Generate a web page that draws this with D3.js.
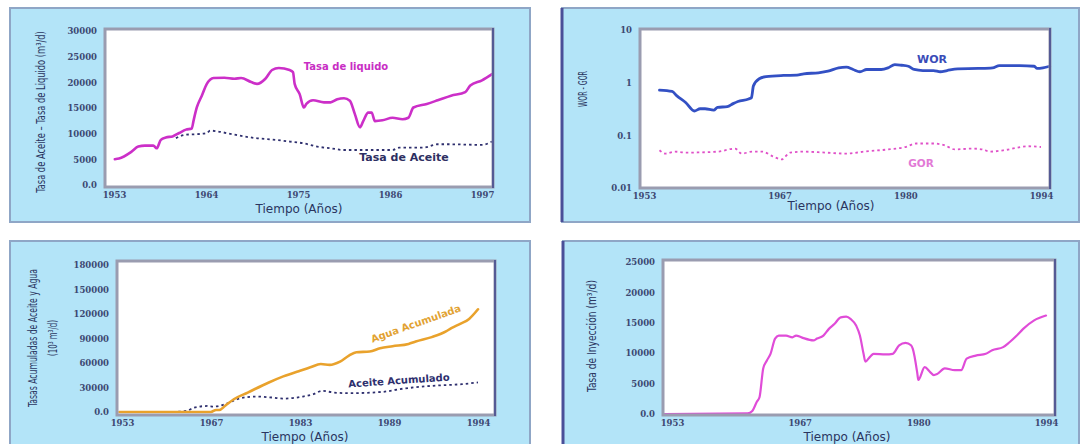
<!DOCTYPE html>
<html>
<head>
<meta charset="utf-8">
<script src="https://cdn.jsdelivr.net/npm/d3@7"></script>
<style>
  html, body { margin: 0; padding: 0; background: #ffffff; }
  svg { display: block; }
  .tick text { font-family: "DejaVu Serif", "Liberation Serif", serif; font-size: 8.5px; font-weight: bold; fill: #3d4872; }
  .xtitle { font-family: "DejaVu Sans", Verdana, sans-serif; font-size: 12px; fill: #2a3560; }
  .ytitle { font-family: "DejaVu Sans Condensed", "Liberation Sans", sans-serif; font-size: 13px; fill: #2a3560; }
  .series { font-family: "DejaVu Sans", Verdana, sans-serif; font-weight: bold; }
</style>
</head>
<body>
<svg id="chart" width="1084" height="444"></svg>
<script>
// ---- Panel 1: liquid and oil rates (m³/d) ----
const p1XTicks = [1953, 1964, 1975, 1986, 1997];
const p1YTicks = [0, 5000, 10000, 15000, 20000, 25000, 30000];
const tasaLiquido = [
  [1953.1, 5030], [1953.6, 5150], [1955.1, 6490], [1955.9, 7480], [1956.7, 7680],
  [1957.7, 7680], [1958.1, 7150], [1958.6, 8800], [1959.2, 9270], [1960.0, 9470],
  [1960.8, 10130], [1961.6, 10790], [1962.3, 11000], [1962.5, 12450], [1962.9, 15100],
  [1963.5, 17400], [1964.1, 19700], [1964.9, 20850], [1966.2, 20900], [1967.4, 20700],
  [1968.2, 20850], [1969.4, 20050], [1970.1, 19700], [1971.1, 20700], [1971.9, 22400],
  [1972.7, 22800], [1974.0, 22400], [1974.4, 22000], [1974.6, 19700], [1975.2, 17700],
  [1975.7, 15100], [1976.0, 15800], [1976.8, 16500], [1978.1, 16100], [1978.9, 16100],
  [1979.7, 16700], [1980.5, 16900], [1981.2, 16400], [1981.8, 13800], [1982.4, 11250],
  [1982.8, 12450], [1983.4, 14100], [1983.8, 14100], [1984.2, 12450], [1985.1, 12600],
  [1986.3, 13100], [1987.5, 12800], [1988.2, 13100], [1988.8, 15100], [1990.4, 15800],
  [1991.7, 16500], [1993.3, 17400], [1995.0, 18100], [1995.6, 19400], [1997.0, 20400],
  [1998.2, 21600]
];
const tasaAceite = [
  [1960.4, 9140], [1961.6, 9800], [1963.0, 9900], [1964.1, 10130], [1964.5, 10600],
  [1965.3, 10460], [1967.4, 9800], [1969.9, 9140], [1972.3, 8800], [1974.0, 8470],
  [1975.6, 8140], [1977.3, 7480], [1978.9, 7150], [1980.5, 6820], [1982.6, 6820],
  [1986.3, 6820], [1987.1, 7280], [1990.0, 7280], [1991.7, 7940], [1992.9, 7940],
  [1997.0, 7810], [1998.2, 8470]
];

// ---- Panel 2: WOR and GOR (log scale) ----
const p2XTicks = [1953, 1967, 1980, 1994];
const p2YTicks = [0.01, 0.1, 1, 10];
const p2YLabels = ["0.01", "0.1", "1", "10"];
const wor = [
  [1954.6, 0.72], [1955.9, 0.68], [1956.4, 0.56], [1957.3, 0.42], [1958.2, 0.29],
  [1958.8, 0.32], [1959.3, 0.32], [1960.2, 0.30], [1960.6, 0.34], [1961.6, 0.35],
  [1962.2, 0.40], [1962.7, 0.44], [1963.8, 0.49], [1964.1, 0.52], [1964.3, 0.87],
  [1964.9, 1.19], [1965.6, 1.30], [1967.4, 1.37], [1968.8, 1.39], [1969.5, 1.47],
  [1971.0, 1.54], [1972.0, 1.65], [1973.1, 1.91], [1973.9, 1.97], [1974.6, 1.78],
  [1975.3, 1.61], [1976.0, 1.78], [1977.5, 1.78], [1978.2, 1.91], [1978.9, 2.20],
  [1979.6, 2.14], [1980.3, 2.05], [1980.9, 1.78], [1981.8, 1.70], [1982.9, 1.70],
  [1983.6, 1.61], [1984.3, 1.70], [1985.4, 1.83], [1987.5, 1.86], [1989.0, 1.91],
  [1989.7, 2.11], [1991.8, 2.11], [1993.3, 2.05], [1993.6, 1.86], [1994.2, 1.91],
  [1994.9, 2.05]
];
const gor = [
  [1954.6, 0.052], [1955.2, 0.045], [1956.2, 0.049], [1957.3, 0.047], [1960.6, 0.049],
  [1962.4, 0.056], [1963.1, 0.045], [1964.2, 0.049], [1965.2, 0.049], [1966.3, 0.040],
  [1967.2, 0.035], [1968.1, 0.047], [1969.5, 0.049], [1971.7, 0.047], [1973.9, 0.045],
  [1975.7, 0.049], [1978.2, 0.054], [1980.0, 0.060], [1981.1, 0.070], [1982.9, 0.070],
  [1984.0, 0.065], [1985.1, 0.054], [1986.9, 0.056], [1988.0, 0.054], [1988.7, 0.049],
  [1990.1, 0.052], [1992.7, 0.062], [1994.0, 0.060]
];

// ---- Panel 3: cumulative water and oil (10³ m³) ----
const p3XTicks = [1953, 1967, 1983, 1989, 1994];
const p3YTicks = [0, 30000, 60000, 90000, 120000, 150000, 180000];
const aguaAcumulada = [
  [1952.6, 0], [1965.9, 0], [1967.0, 0], [1967.9, 2500], [1968.5, 2500],
  [1969.5, 7400], [1971.1, 15600], [1973.6, 23800], [1977.4, 36200], [1980.0, 43600],
  [1983.0, 50600], [1983.7, 54700], [1984.4, 58800], [1985.0, 57700], [1985.7, 61700],
  [1986.3, 69000], [1986.8, 73200], [1987.7, 74000], [1988.4, 78100], [1989.2, 80600],
  [1990.1, 83400], [1990.5, 86300], [1991.4, 91700], [1992.2, 98600], [1992.5, 102700],
  [1993.0, 108000], [1993.5, 114000], [1994.0, 125800]
];
const aceiteAcumulado = [
  [1961.0, 0], [1963.2, 1500], [1964.3, 5300], [1966.5, 7400], [1967.5, 6600],
  [1969.5, 9500], [1971.7, 15600], [1974.9, 18900], [1978.1, 17700], [1980.0, 16400],
  [1983.2, 18900], [1983.9, 21800], [1984.5, 25900], [1985.3, 23800], [1986.3, 23000],
  [1988.6, 24700], [1989.6, 28000], [1991.4, 32000], [1993.1, 34100], [1994.0, 36200]
];

// ---- Panel 4: injection rate (m³/d) ----
const p4XTicks = [1953, 1967, 1980, 1994];
const p4YTicks = [0, 5000, 10000, 15000, 20000, 25000];
const tasaInyeccion = [
  [1952.2, 0], [1961.3, 100], [1961.8, 500], [1962.3, 2000], [1962.6, 2800],
  [1963.0, 7500], [1963.4, 8800], [1963.8, 9900], [1964.3, 12400], [1964.7, 12900],
  [1965.5, 12900], [1966.2, 12600], [1966.6, 12900], [1967.2, 12600], [1968.5, 12100],
  [1968.9, 12400], [1969.6, 12900], [1970.2, 14000], [1970.8, 14800], [1971.5, 15900],
  [1972.1, 16000], [1972.6, 15600], [1973.2, 14500], [1973.6, 12900], [1974.0, 9900],
  [1974.2, 8600], [1974.7, 9400], [1975.1, 9900], [1976.4, 9800], [1977.2, 9900],
  [1977.9, 11300], [1978.6, 11700], [1979.2, 11300], [1979.4, 10700], [1979.9, 6600],
  [1980.0, 5600], [1980.7, 7700], [1981.3, 6900], [1981.7, 6400], [1982.1, 6600],
  [1982.9, 7500], [1984.0, 7200], [1984.7, 7200], [1985.3, 9100], [1986.3, 9600],
  [1987.4, 9900], [1988.1, 10500], [1989.3, 11000], [1990.0, 11800], [1990.8, 12900],
  [1991.5, 14000], [1992.7, 15400], [1994.0, 16200]
];

const svg = d3.select("#chart");
const fmtRate = d => d === 0 ? "0.0" : String(d);

// Light-blue card with a white, framed plotting area
function panel(box, frame, darkLeft) {
  const g = svg.append("g");
  g.append("rect").attr("x", box.x).attr("y", box.y).attr("width", box.w).attr("height", box.h)
    .attr("fill", "#b3e4f8").attr("stroke", "#8fa6c6").attr("stroke-width", 2);
  if (darkLeft) {
    g.append("line").attr("x1", box.x).attr("x2", box.x).attr("y1", box.y).attr("y2", box.y + box.h)
      .attr("stroke", "#4a4f98").attr("stroke-width", 3);
  }
  g.append("rect").attr("x", frame.x0).attr("y", frame.y0)
    .attr("width", frame.x1 - frame.x0).attr("height", frame.y1 - frame.y0).attr("fill", "#ffffff");
  return g;
}

function frameBorder(g, frame) {
  g.append("rect").attr("x", frame.x0).attr("y", frame.y0)
    .attr("width", frame.x1 - frame.x0).attr("height", frame.y1 - frame.y0)
    .attr("fill", "none").attr("stroke", "#9a9cb0").attr("stroke-width", 3);
  g.append("line").attr("x1", frame.x1).attr("x2", frame.x1).attr("y1", frame.y0 - 1).attr("y2", frame.y1 + 1)
    .attr("stroke", "#555a94").attr("stroke-width", 2);
}

function axes(g, frame, x, y, xTicks, yTicks, yFmt, xFmt) {
  const ax = g.append("g").attr("transform", `translate(0,${frame.y1})`)
    .call(d3.axisBottom(x).tickValues(xTicks).tickSize(0).tickPadding(5).tickFormat(xFmt || (d => String(d))));
  ax.select(".domain").remove();
  const ay = g.append("g").attr("transform", `translate(${frame.x0},0)`)
    .call(d3.axisLeft(y).tickValues(yTicks).tickSize(0).tickPadding(8).tickFormat(yFmt));
  ay.select(".domain").remove();
}

function drawLine(g, data, x, y, color, width, dash) {
  const line = d3.line().x(d => x(d[0])).y(d => y(d[1])).curve(d3.curveMonotoneX);
  const p = g.append("path").datum(data).attr("d", line)
    .attr("fill", "none").attr("stroke", color).attr("stroke-width", width)
    .attr("stroke-linejoin", "round").attr("stroke-linecap", dash ? "butt" : "round");
  if (dash) p.attr("stroke-dasharray", dash);
}

function xTitle(g, cx, cy) {
  g.append("text").attr("class", "xtitle").attr("x", cx).attr("y", cy)
    .attr("text-anchor", "middle").attr("dominant-baseline", "middle").text("Tiempo (Años)");
}

// Rotated, narrow axis title: each line is squeezed along its length to fit
function yTitle(g, cx, cy, lines, lengths, gap) {
  const n = lines.length;
  lines.forEach((s, i) => {
    const lx = cx + (i - (n - 1) / 2) * (gap || 0);
    const t = g.append("text").attr("class", "ytitle").attr("text-anchor", "middle")
      .attr("dominant-baseline", "middle").text(s);
    const natural = t.node().getComputedTextLength();
    const k = lengths[i] / natural;
    t.attr("transform", `translate(${lx},${cy}) rotate(-90) scale(${k},1)`);
  });
}

function seriesLabel(g, x, y, text, color, size, angle) {
  g.append("text").attr("class", "series").attr("font-size", size).attr("fill", color)
    .attr("text-anchor", "middle").attr("dominant-baseline", "middle")
    .attr("transform", `translate(${x},${y}) rotate(${angle || 0})`).text(text);
}

// ---------- Panel 1 ----------
{
  const frame = { x0: 105, y0: 29, x1: 493, y1: 187 };
  const g = panel({ x: 10, y: 8, w: 520, h: 214 }, frame, false);
  const x = d3.scaleLinear().domain([1953, 1997]).range([114, 482]);
  const y = d3.scaleLinear().domain([0, 30000]).range([185, 31]);
  drawLine(g, tasaAceite, x, y, "#2e2f6e", 1.8, "2.5,3");
  drawLine(g, tasaLiquido, x, y, "#cc2fc8", 2.6);
  frameBorder(g, frame);
  axes(g, frame, x, y, p1XTicks, p1YTicks, fmtRate);
  xTitle(g, 299, 209);
  yTitle(g, 42, 112, ["Tasa de Aceite – Tasa de Liquido (m³/d)"], [162]);
  seriesLabel(g, 346, 67, "Tasa de liquido", "#c82ec4", 10);
  seriesLabel(g, 404, 158, "Tasa de Aceite", "#2e2f62", 11);
}

// ---------- Panel 2 ----------
{
  const frame = { x0: 640, y0: 29, x1: 1050, y1: 188 };
  const g = panel({ x: 562, y: 8, w: 517, h: 214 }, frame, true);
  const x = d3.scaleLinear().domain([1953, 1994]).range([644, 1041]);
  const y = d3.scaleLog().domain([0.01, 10]).range([188, 30]);
  drawLine(g, gor, x, y, "#e050c8", 1.8, "2.5,3");
  drawLine(g, wor, x, y, "#3350c4", 2.8);
  frameBorder(g, frame);
  axes(g, frame, x, y, p2XTicks, p2YTicks, (d, i) => p2YLabels[p2YTicks.indexOf(d)]);
  xTitle(g, 831, 206);
  yTitle(g, 583, 89, ["WOR - GOR"], [36]);
  seriesLabel(g, 932, 60, "WOR", "#3a4cb8", 11);
  seriesLabel(g, 921, 164, "GOR", "#e27ad6", 10.5);
}

// ---------- Panel 3 ----------
{
  const frame = { x0: 117, y0: 261, x1: 495, y1: 415 };
  const g = panel({ x: 10, y: 241, w: 520, h: 215 }, frame, false);
  const x = d3.scaleLinear().domain(p3XTicks).range(p3XTicks.map((d, i) => 122 + i * 89));
  const y = d3.scaleLinear().domain([0, 180000]).range([412, 265]);
  drawLine(g, aceiteAcumulado, x, y, "#2e2f6e", 1.8, "2.5,3");
  drawLine(g, aguaAcumulada, x, y, "#e9a22c", 2.6);
  frameBorder(g, frame);
  axes(g, frame, x, y, p3XTicks, p3YTicks, fmtRate);
  xTitle(g, 305, 437);
  yTitle(g, 43, 338, ["Tasas Acumuladas de Aceite y Agua", "(10³ m³/d)"], [138, 36], 20);
  seriesLabel(g, 416, 324, "Agua Acumulada", "#e2a232", 10, -19.5);
  seriesLabel(g, 399, 381, "Aceite Acumulado", "#2e2f6e", 10, -4);
}

// ---------- Panel 4 ----------
{
  const frame = { x0: 663, y0: 260, x1: 1055, y1: 415 };
  const g = panel({ x: 563, y: 241, w: 516, h: 215 }, frame, true);
  const x = d3.scaleLinear().domain([1953, 1994]).range([672, 1046]);
  const y = d3.scaleLinear().domain([0, 25000]).range([414, 262]);
  drawLine(g, tasaInyeccion, x, y, "#e04cd8", 2.2);
  frameBorder(g, frame);
  axes(g, frame, x, y, p4XTicks, p4YTicks, fmtRate);
  xTitle(g, 847, 437);
  yTitle(g, 592, 336, ["Tasa de Inyección  (m³/d)"], [112]);
}
</script>
</body>
</html>
